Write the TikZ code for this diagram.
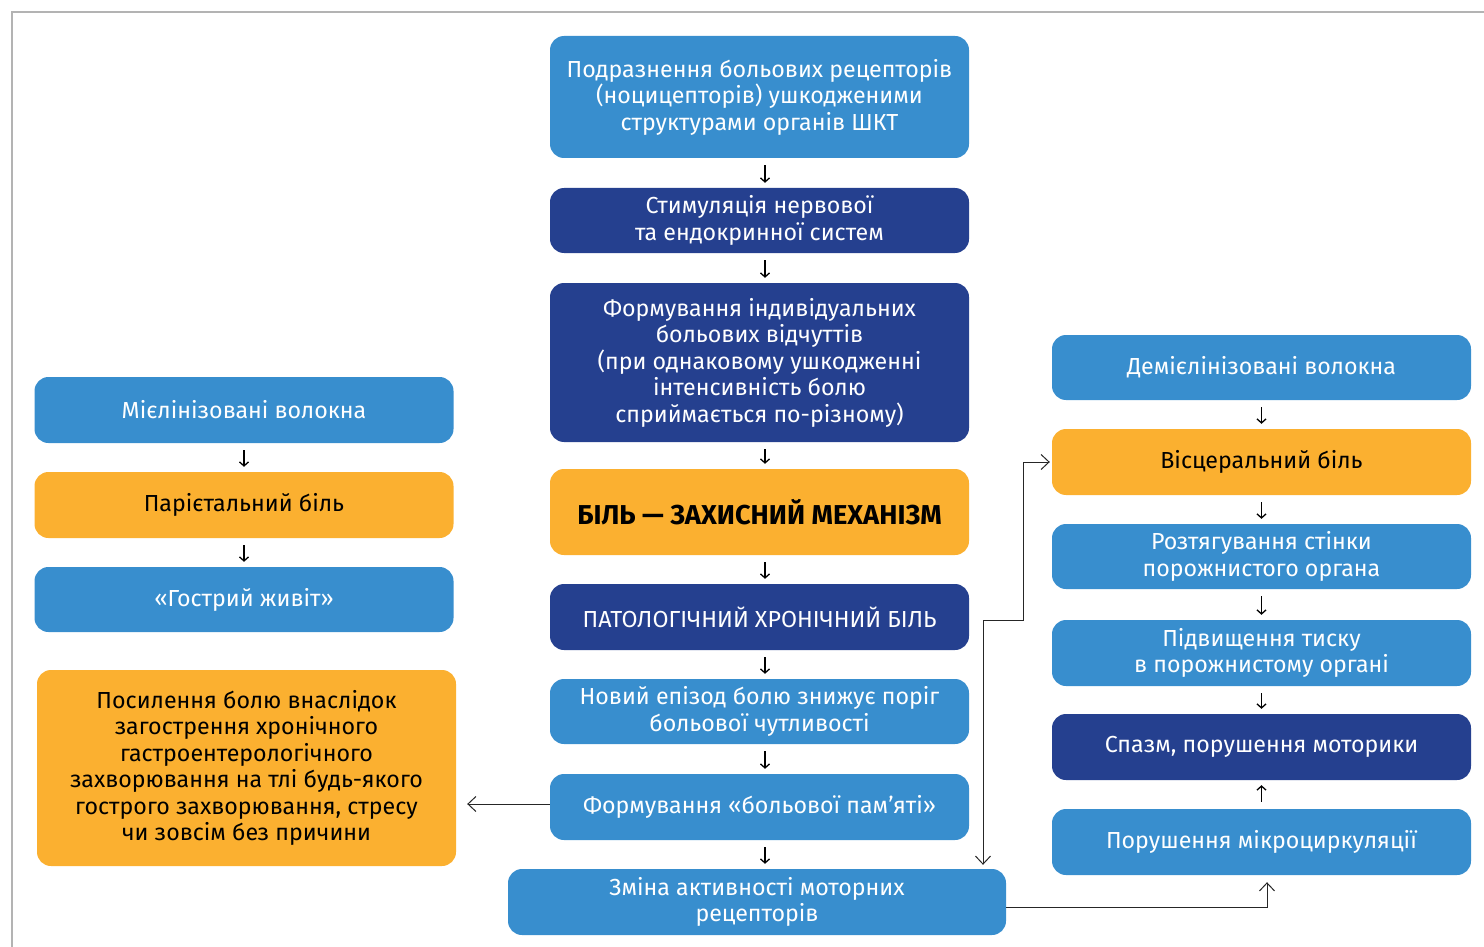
\documentclass[tikz,border=0pt]{standalone}
\usepackage{fontspec}
\setmainfont{Fira Sans}
\usepackage{xcolor}
\usetikzlibrary{arrows.meta}

\definecolor{lightblue}{HTML}{388ECE}
\definecolor{darkblue}{HTML}{25408F}
\definecolor{amber}{HTML}{FBB030}
\definecolor{framegray}{HTML}{B3B3B3}

\begin{document}
\begin{tikzpicture}[
        x=1pt,
        y=-1pt,
        frame/.style={draw=framegray, line width=2pt},
        box/.style={
            rounded corners=14pt,
            align=center,
            inner sep=0pt,
            minimum width=419pt,
            minimum height=66pt,
            font=\fontsize{23.2}{26.5}\selectfont
        },
        light/.style={box, fill=lightblue, text=white},
        dark/.style={box, fill=darkblue, text=white},
        warm/.style={box, fill=amber, text=black},
        stepflow/.style={-{Straight Barb[length=4pt,width=9pt]}, line width=1.3pt, shorten <=7pt, shorten >=5pt},
        link/.style={-{Straight Barb[length=8pt,width=15pt]}, line width=1pt, draw=black!85}
    ]
        \useasboundingbox (0,0) rectangle (1484,947);
        % Frame: top and left edges only.
        \draw[frame] (12,947) -- (12,12) -- (1484,12);

        % Centre column.
        \node[light, minimum height=122pt] (irrit) at (759.5,97) {Подразнення больових рецепторів\\(ноцицепторів) ушкодженими\\структурами органів ШКТ};
        \node[dark, minimum height=65pt] (stim) at (759.5,220.5) {Стимуляція нервової\\та ендокринної систем};
        \node[dark, minimum height=159pt] (indiv) at (759.5,362.5) {Формування індивідуальних\\больових відчуттів\\(при однаковому ушкодженні\\інтенсивність болю\\сприймається по-різному)};
        \node[warm, minimum height=86pt, font=\fontsize{27.3}{30}\selectfont\bfseries] (protect) at (759.5,512) {БІЛЬ — ЗАХИСНИЙ МЕХАНІЗМ};
        \node[dark] (chronic) at (759.5,617) {ПАТОЛОГІЧНИЙ ХРОНІЧНИЙ БІЛЬ};
        \node[light, minimum height=65pt] (episode) at (759.5,711.5) {Новий епізод болю знижує поріг\\больової чутливості};
        \node[light] (memory) at (759.5,807) {Формування «больової пам’яті»};
        \node[light, minimum width=498pt] (motor) at (757,902) {Зміна активності моторних\\рецепторів};

        % Left column.
        \node[light] (myelin) at (244,410) {Мієлінізовані волокна};
        \node[warm] (pariet) at (244,505) {Парієтальний біль};
        \node[light, minimum height=65pt] (acute) at (244,599.5) {«Гострий живіт»};
        \node[warm, minimum height=196pt] (worse) at (246.5,768) {Посилення болю внаслідок\\загострення хронічного\\гастроентерологічного\\захворювання на тлі будь-якого\\гострого захворювання, стресу\\чи зовсім без причини};

        % Right column.
        \node[light, minimum height=65pt] (demyel) at (1261.5,367.5) {Демієлінізовані волокна};
        \node[warm] (visc) at (1261.5,462) {Вісцеральний біль};
        \node[light, minimum height=65pt] (stretch) at (1261.5,556.5) {Розтягування стінки\\порожнистого органа};
        \node[light] (press) at (1261.5,653) {Підвищення тиску\\в порожнистому органі};
        \node[dark] (spasm) at (1261.5,747) {Спазм, порушення моторики};
        \node[light] (micro) at (1261.5,842) {Порушення мікроциркуляції};

        \draw[stepflow] ([xshift=5.5pt]irrit.south) -- ([xshift=5.5pt]stim.north);
        \draw[stepflow] ([xshift=5.5pt]stim.south) -- ([xshift=5.5pt]indiv.north);
        \draw[stepflow] ([xshift=5.5pt]indiv.south) -- ([xshift=5.5pt]protect.north);
        \draw[stepflow] ([xshift=5.5pt]protect.south) -- ([xshift=5.5pt]chronic.north);
        \draw[stepflow] ([xshift=5.5pt]chronic.south) -- ([xshift=5.5pt]episode.north);
        \draw[stepflow] ([xshift=5.5pt]episode.south) -- ([xshift=5.5pt]memory.north);
        \draw[stepflow] ([xshift=5.5pt]memory.south) -- ([xshift=5.5pt]memory.south |- motor.north);
        \draw[stepflow] (myelin.south) -- (pariet.north);
        \draw[stepflow] (pariet.south) -- (acute.north);
        \draw[stepflow] (demyel.south) -- (visc.north);
        \draw[stepflow] (visc.south) -- (stretch.north);
        \draw[stepflow] (stretch.south) -- (press.north);
        \draw[stepflow] (press.south) -- (spasm.north);
        \draw[stepflow] (micro.north) -- (spasm.south);

        \draw[link, shorten >=11pt] ([yshift=3pt]memory.west) -- ([yshift=3pt]memory.west -| worse.east);
        \coordinate (kink) at ([xshift=54pt, yshift=-3pt]chronic.east);
        \draw[link, {Straight Barb[length=8pt,width=15pt]}-{Straight Barb[length=8pt,width=15pt]}, shorten <=4pt, shorten >=2pt] ([xshift=226pt]motor.north) |- (kink) |- (visc.west);
        \draw[link, shorten >=7pt] ([yshift=-5pt]motor.east) -| ([xshift=5.5pt]micro.south);

    \end{tikzpicture}
\end{document}
